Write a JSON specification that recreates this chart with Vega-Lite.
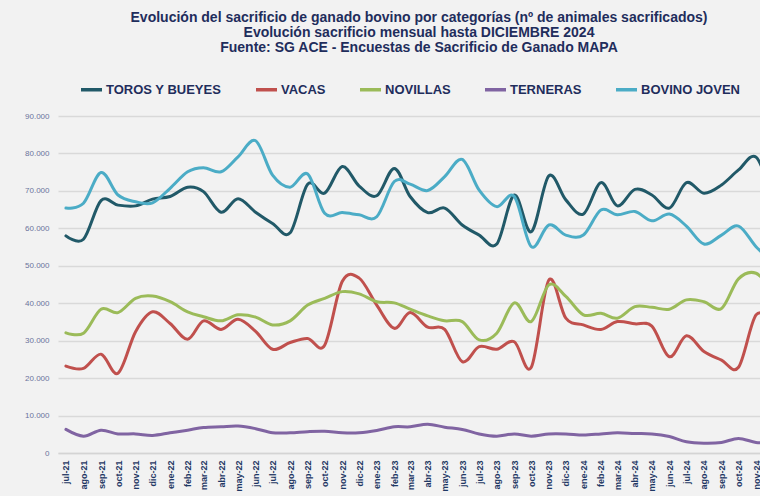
{
  "$schema": "https://vega.github.io/schema/vega-lite/v6.json",
  "width": 702,
  "height": 337,
  "autosize": {"type": "none"},
  "padding": {"left": 58, "top": 116, "right": 0, "bottom": 43},
  "background": "#f2f2f2",
  "title": {
    "text": [
      "Evolución del sacrificio de ganado bovino por categorías  (nº de animales sacrificados)",
      "Evolución sacrificio mensual hasta DICIEMBRE 2024",
      "Fuente: SG ACE - Encuestas de Sacrificio de Ganado MAPA"
    ],
    "anchor": "middle",
    "frame": "group",
    "font": "Liberation Sans",
    "fontSize": 14,
    "fontWeight": "bold",
    "color": "#1f2d5c",
    "lineHeight": 15,
    "offset": 22,
    "dx": 10
  },
  "data": {
    "values": [
      {"mes": "2021-07-01", "TOROS Y BUEYES": 58000, "VACAS": 23200, "NOVILLAS": 32100, "TERNERAS": 6300, "BOVINO JOVEN": 65400},
      {"mes": "2021-08-01", "TOROS Y BUEYES": 57100, "VACAS": 22600, "NOVILLAS": 32000, "TERNERAS": 4500, "BOVINO JOVEN": 66700},
      {"mes": "2021-09-01", "TOROS Y BUEYES": 67400, "VACAS": 26400, "NOVILLAS": 38400, "TERNERAS": 6100, "BOVINO JOVEN": 74900},
      {"mes": "2021-10-01", "TOROS Y BUEYES": 66200, "VACAS": 21300, "NOVILLAS": 37500, "TERNERAS": 5100, "BOVINO JOVEN": 68900},
      {"mes": "2021-11-01", "TOROS Y BUEYES": 66000, "VACAS": 32400, "NOVILLAS": 41300, "TERNERAS": 5100, "BOVINO JOVEN": 67100},
      {"mes": "2021-12-01", "TOROS Y BUEYES": 67800, "VACAS": 37700, "NOVILLAS": 41900, "TERNERAS": 4700, "BOVINO JOVEN": 66800},
      {"mes": "2022-01-01", "TOROS Y BUEYES": 68500, "VACAS": 34600, "NOVILLAS": 40400, "TERNERAS": 5400, "BOVINO JOVEN": 70700},
      {"mes": "2022-02-01", "TOROS Y BUEYES": 71000, "VACAS": 30400, "NOVILLAS": 37700, "TERNERAS": 6100, "BOVINO JOVEN": 75100},
      {"mes": "2022-03-01", "TOROS Y BUEYES": 69800, "VACAS": 35300, "NOVILLAS": 36400, "TERNERAS": 6800, "BOVINO JOVEN": 76200},
      {"mes": "2022-04-01", "TOROS Y BUEYES": 64300, "VACAS": 33000, "NOVILLAS": 35300, "TERNERAS": 7000, "BOVINO JOVEN": 75100},
      {"mes": "2022-05-01", "TOROS Y BUEYES": 67900, "VACAS": 35700, "NOVILLAS": 36900, "TERNERAS": 7200, "BOVINO JOVEN": 79100},
      {"mes": "2022-06-01", "TOROS Y BUEYES": 64300, "VACAS": 32500, "NOVILLAS": 36300, "TERNERAS": 6500, "BOVINO JOVEN": 83400},
      {"mes": "2022-07-01", "TOROS Y BUEYES": 61300, "VACAS": 27700, "NOVILLAS": 34200, "TERNERAS": 5400, "BOVINO JOVEN": 74200},
      {"mes": "2022-08-01", "TOROS Y BUEYES": 58800, "VACAS": 29500, "NOVILLAS": 35300, "TERNERAS": 5400, "BOVINO JOVEN": 71000},
      {"mes": "2022-09-01", "TOROS Y BUEYES": 71800, "VACAS": 30600, "NOVILLAS": 39500, "TERNERAS": 5700, "BOVINO JOVEN": 74500},
      {"mes": "2022-10-01", "TOROS Y BUEYES": 69400, "VACAS": 28800, "NOVILLAS": 41300, "TERNERAS": 5800, "BOVINO JOVEN": 64000},
      {"mes": "2022-11-01", "TOROS Y BUEYES": 76500, "VACAS": 45800, "NOVILLAS": 43100, "TERNERAS": 5400, "BOVINO JOVEN": 64200},
      {"mes": "2022-12-01", "TOROS Y BUEYES": 71300, "VACAS": 46700, "NOVILLAS": 42500, "TERNERAS": 5400, "BOVINO JOVEN": 63600},
      {"mes": "2023-01-01", "TOROS Y BUEYES": 68700, "VACAS": 39500, "NOVILLAS": 40400, "TERNERAS": 6000, "BOVINO JOVEN": 63100},
      {"mes": "2023-02-01", "TOROS Y BUEYES": 76000, "VACAS": 33300, "NOVILLAS": 40100, "TERNERAS": 7000, "BOVINO JOVEN": 72500},
      {"mes": "2023-03-01", "TOROS Y BUEYES": 68500, "VACAS": 37500, "NOVILLAS": 38400, "TERNERAS": 7000, "BOVINO JOVEN": 71800},
      {"mes": "2023-04-01", "TOROS Y BUEYES": 64200, "VACAS": 33600, "NOVILLAS": 36600, "TERNERAS": 7700, "BOVINO JOVEN": 70100},
      {"mes": "2023-05-01", "TOROS Y BUEYES": 65400, "VACAS": 33000, "NOVILLAS": 35300, "TERNERAS": 6900, "BOVINO JOVEN": 73800},
      {"mes": "2023-06-01", "TOROS Y BUEYES": 60900, "VACAS": 24400, "NOVILLAS": 35100, "TERNERAS": 6300, "BOVINO JOVEN": 78400},
      {"mes": "2023-07-01", "TOROS Y BUEYES": 58200, "VACAS": 28400, "NOVILLAS": 30200, "TERNERAS": 5100, "BOVINO JOVEN": 70200},
      {"mes": "2023-08-01", "TOROS Y BUEYES": 55800, "VACAS": 27700, "NOVILLAS": 32000, "TERNERAS": 4500, "BOVINO JOVEN": 65800},
      {"mes": "2023-09-01", "TOROS Y BUEYES": 68900, "VACAS": 29700, "NOVILLAS": 40100, "TERNERAS": 5100, "BOVINO JOVEN": 68500},
      {"mes": "2023-10-01", "TOROS Y BUEYES": 59100, "VACAS": 22900, "NOVILLAS": 35100, "TERNERAS": 4500, "BOVINO JOVEN": 55100},
      {"mes": "2023-11-01", "TOROS Y BUEYES": 74000, "VACAS": 46200, "NOVILLAS": 44900, "TERNERAS": 5100, "BOVINO JOVEN": 60900},
      {"mes": "2023-12-01", "TOROS Y BUEYES": 67600, "VACAS": 36000, "NOVILLAS": 41800, "TERNERAS": 5100, "BOVINO JOVEN": 58200},
      {"mes": "2024-01-01", "TOROS Y BUEYES": 63800, "VACAS": 34200, "NOVILLAS": 36900, "TERNERAS": 4800, "BOVINO JOVEN": 58200},
      {"mes": "2024-02-01", "TOROS Y BUEYES": 72200, "VACAS": 33000, "NOVILLAS": 37300, "TERNERAS": 5100, "BOVINO JOVEN": 64900},
      {"mes": "2024-03-01", "TOROS Y BUEYES": 66000, "VACAS": 35100, "NOVILLAS": 36000, "TERNERAS": 5400, "BOVINO JOVEN": 63600},
      {"mes": "2024-04-01", "TOROS Y BUEYES": 70400, "VACAS": 34500, "NOVILLAS": 39100, "TERNERAS": 5200, "BOVINO JOVEN": 64500},
      {"mes": "2024-05-01", "TOROS Y BUEYES": 68900, "VACAS": 33900, "NOVILLAS": 38900, "TERNERAS": 5100, "BOVINO JOVEN": 62000},
      {"mes": "2024-06-01", "TOROS Y BUEYES": 65400, "VACAS": 25700, "NOVILLAS": 38400, "TERNERAS": 4400, "BOVINO JOVEN": 63800},
      {"mes": "2024-07-01", "TOROS Y BUEYES": 72200, "VACAS": 31300, "NOVILLAS": 40900, "TERNERAS": 3000, "BOVINO JOVEN": 60600},
      {"mes": "2024-08-01", "TOROS Y BUEYES": 69400, "VACAS": 27100, "NOVILLAS": 40400, "TERNERAS": 2600, "BOVINO JOVEN": 55800},
      {"mes": "2024-09-01", "TOROS Y BUEYES": 71600, "VACAS": 24800, "NOVILLAS": 38600, "TERNERAS": 2800, "BOVINO JOVEN": 58200},
      {"mes": "2024-10-01", "TOROS Y BUEYES": 75600, "VACAS": 22900, "NOVILLAS": 46500, "TERNERAS": 3900, "BOVINO JOVEN": 60600},
      {"mes": "2024-11-01", "TOROS Y BUEYES": 79000, "VACAS": 36900, "NOVILLAS": 48000, "TERNERAS": 2800, "BOVINO JOVEN": 55100},
      {"mes": "2024-12-01", "TOROS Y BUEYES": 68000, "VACAS": 35000, "NOVILLAS": 43000, "TERNERAS": 2700, "BOVINO JOVEN": 51000}
    ]
  },
  "transform": [
    {"fold": ["TOROS Y BUEYES", "VACAS", "NOVILLAS", "TERNERAS", "BOVINO JOVEN"], "as": ["cat", "v"]}
  ],
  "mark": {"type": "line", "interpolate": "cardinal", "strokeWidth": 3, "clip": true, "strokeCap": "round", "strokeJoin": "round"},
  "encoding": {
    "x": {
      "field": "mes",
      "type": "temporal",
      "scale": {
        "type": "utc",
        "domain": [
          {"year": 2021, "month": 6, "date": 17, "utc": true},
          {"year": 2024, "month": 11, "date": 8, "utc": true}
        ]
      },
      "axis": {
        "title": null,
        "format": "%b-%y",
        "tickCount": {"interval": "month", "step": 1},
        "labelAngle": 270,
        "labelFont": "Liberation Sans",
        "labelFontSize": 9,
        "labelFontWeight": "bold",
        "labelColor": "#1f3864",
        "labelPadding": 7,
        "labelOverlap": false,
        "labelFlush": false,
        "labelBound": false,
        "ticks": false,
        "grid": false,
        "domain": true,
        "domainColor": "#d4d4d4",
        "domainWidth": 1.5
      }
    },
    "y": {
      "field": "v",
      "type": "quantitative",
      "scale": {"domain": [0, 90000], "nice": false},
      "axis": {
        "title": null,
        "values": [0, 10000, 20000, 30000, 40000, 50000, 60000, 70000, 80000, 90000],
        "format": ",.0f",
        "labelFont": "Liberation Sans",
        "labelFontSize": 8,
        "labelColor": "#6b739c",
        "labelPadding": 9,
        "ticks": false,
        "domain": false,
        "grid": true,
        "gridColor": "#d9d9d9",
        "gridWidth": 1.5
      }
    },
    "color": {
      "field": "cat",
      "type": "nominal",
      "scale": {
        "domain": ["TOROS Y BUEYES", "VACAS", "NOVILLAS", "TERNERAS", "BOVINO JOVEN"],
        "range": ["#215968", "#c0504d", "#9bbb59", "#8064a2", "#4bacc6"]
      },
      "legend": {
        "orient": "none",
        "legendX": 21,
        "legendY": -39,
        "direction": "horizontal",
        "title": null,
        "symbolType": "stroke",
        "symbolSize": 441,
        "symbolStrokeWidth": 3.5,
        "labelFont": "Liberation Sans",
        "labelFontSize": 13,
        "labelFontWeight": "bold",
        "labelColor": "#1f2d5c",
        "labelOffset": 2,
        "columnPadding": 27,
        "padding": 0
      }
    }
  },
  "config": {
    "view": {"stroke": null},
    "locale": {
      "number": {"decimal": ",", "thousands": ".", "grouping": [3], "currency": ["", " €"]},
      "time": {
        "dateTime": "%A, %e de %B de %Y, %X",
        "date": "%d/%m/%Y",
        "time": "%H:%M:%S",
        "periods": ["AM", "PM"],
        "days": ["domingo", "lunes", "martes", "miércoles", "jueves", "viernes", "sábado"],
        "shortDays": ["dom", "lun", "mar", "mié", "jue", "vie", "sáb"],
        "months": ["enero", "febrero", "marzo", "abril", "mayo", "junio", "julio", "agosto", "septiembre", "octubre", "noviembre", "diciembre"],
        "shortMonths": ["ene", "feb", "mar", "abr", "may", "jun", "jul", "ago", "sep", "oct", "nov", "dic"]
      }
    }
  }
}
